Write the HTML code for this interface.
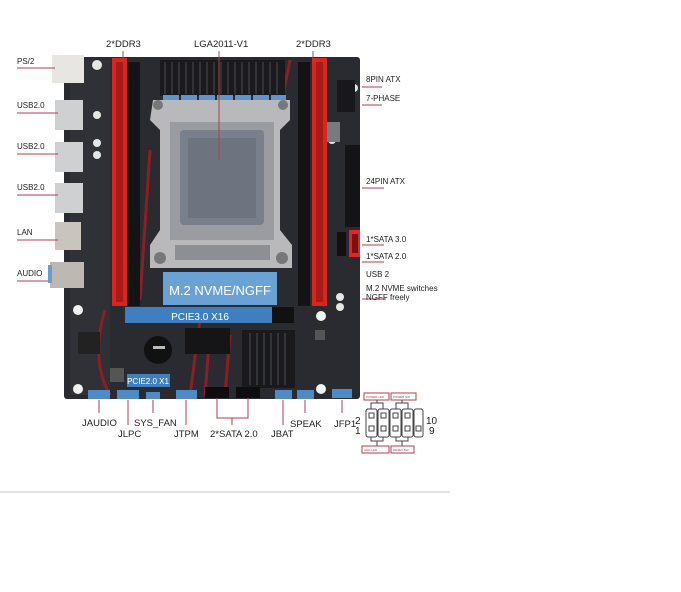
<!DOCTYPE html>
<html><head><meta charset="utf-8"><style>
html,body{margin:0;padding:0;background:#fff;width:681px;height:592px;overflow:hidden;font-family:"Liberation Sans",sans-serif;}
svg{position:absolute;left:0;top:0}
</style></head><body>
<svg width="681" height="592" viewBox="0 0 681 592" xmlns="http://www.w3.org/2000/svg" font-family="Liberation Sans, sans-serif">
<rect x="64" y="57" width="296" height="342" rx="3" fill="#2a2b30"/>
<rect x="70" y="60" width="40" height="335" fill="#303136"/>
<path d="M150 150 L140 300 M200 320 L190 395 M210 330 L205 395 M230 335 L225 395 M290 60 L280 110 M105 310 Q90 360 110 395" stroke="#8a1f25" stroke-width="3" fill="none"/>
<rect x="52" y="55" width="32" height="28" fill="#e8e6e2"/>
<rect x="55" y="100" width="28" height="30" fill="#cfd0d2"/>
<rect x="55" y="142" width="28" height="30" fill="#cfd0d2"/>
<rect x="55" y="183" width="28" height="30" fill="#cfd0d2"/>
<rect x="55" y="222" width="26" height="28" fill="#c9c4be"/>
<rect x="50" y="262" width="34" height="26" fill="#bdb8b1"/>
<rect x="48" y="265" width="4" height="18" fill="#6a9bd0"/>
<rect x="112" y="58" width="15" height="248" fill="#d8261f"/>
<rect x="116" y="62" width="7" height="240" fill="#a81a17"/>
<rect x="128" y="62" width="12" height="244" fill="#141416"/>
<rect x="298" y="62" width="12" height="244" fill="#141416"/>
<rect x="312" y="58" width="15" height="248" fill="#d8261f"/>
<rect x="316" y="62" width="7" height="240" fill="#a81a17"/>
<rect x="160" y="60" width="125" height="36" fill="#1a1a1d"/>
<g stroke="#3a3b40" stroke-width="1.5">
<line x1="165" y1="62" x2="165" y2="94"/><line x1="172" y1="62" x2="172" y2="94"/><line x1="179" y1="62" x2="179" y2="94"/><line x1="186" y1="62" x2="186" y2="94"/><line x1="193" y1="62" x2="193" y2="94"/><line x1="200" y1="62" x2="200" y2="94"/><line x1="207" y1="62" x2="207" y2="94"/><line x1="214" y1="62" x2="214" y2="94"/><line x1="221" y1="62" x2="221" y2="94"/><line x1="228" y1="62" x2="228" y2="94"/><line x1="235" y1="62" x2="235" y2="94"/><line x1="242" y1="62" x2="242" y2="94"/><line x1="249" y1="62" x2="249" y2="94"/><line x1="256" y1="62" x2="256" y2="94"/><line x1="263" y1="62" x2="263" y2="94"/><line x1="270" y1="62" x2="270" y2="94"/><line x1="277" y1="62" x2="277" y2="94"/>
</g>
<g fill="#5f95c8">
<rect x="163" y="95" width="16" height="17"/><rect x="181" y="95" width="16" height="17"/><rect x="199" y="95" width="16" height="17"/><rect x="217" y="95" width="16" height="17"/><rect x="235" y="95" width="16" height="17"/><rect x="253" y="95" width="16" height="17"/><rect x="271" y="95" width="15" height="17"/>
</g>
<g fill="#e6e6e6">
<circle cx="180" cy="117" r="4"/><circle cx="192" cy="117" r="4"/><circle cx="203" cy="117" r="4"/><circle cx="214" cy="117" r="4"/><circle cx="225" cy="117" r="4"/><circle cx="236" cy="117" r="4"/><circle cx="247" cy="117" r="4"/><circle cx="258" cy="117" r="4"/>
<circle cx="97" cy="65" r="5"/><circle cx="97" cy="115" r="4"/><circle cx="97" cy="143" r="4"/><circle cx="97" cy="155" r="4"/><circle cx="354" cy="88" r="4"/><circle cx="332" cy="130" r="4"/><circle cx="332" cy="140" r="4"/><circle cx="340" cy="297" r="4"/><circle cx="340" cy="307" r="4"/>
</g>
<path d="M153 100 L290 100 L290 120 L280 130 L280 230 L292 245 L292 268 L150 268 L150 245 L160 230 L160 130 L150 120 Z" fill="#b9b9bb"/>
<rect x="170" y="122" width="104" height="118" fill="#9a9ca2"/>
<rect x="180" y="130" width="84" height="95" rx="4" fill="#7a7f8c"/>
<rect x="188" y="138" width="68" height="80" fill="#6e7380"/>
<rect x="175" y="245" width="95" height="15" fill="#8e8f92"/>
<circle cx="158" cy="105" r="5" fill="#777"/><circle cx="283" cy="105" r="5" fill="#777"/>
<circle cx="160" cy="258" r="6" fill="#777"/><circle cx="282" cy="258" r="6" fill="#777"/>
<rect x="337" y="80" width="18" height="32" fill="#18181a"/>
<rect x="345" y="145" width="15" height="82" fill="#141416"/>
<rect x="349" y="230" width="11" height="27" fill="#e0262a"/>
<rect x="352" y="234" width="6" height="19" fill="#7a1010"/>
<rect x="337" y="232" width="9" height="24" fill="#111"/>
<rect x="327" y="122" width="13" height="20" fill="#777a80"/>
<rect x="163" y="272" width="114" height="33" fill="#6ba2d6"/>
<text x="220" y="295" font-size="13" fill="#fff" text-anchor="middle">M.2 NVME/NGFF</text>
<rect x="125" y="307" width="147" height="16" fill="#3f7fc0"/>
<text x="200" y="320" font-size="10" fill="#fff" text-anchor="middle">PCIE3.0 X16</text>
<rect x="272" y="307" width="22" height="16" fill="#111"/>
<circle cx="158" cy="350" r="14" fill="#111"/>
<rect x="153" y="346" width="12" height="3" fill="#bbb"/>
<rect x="185" y="328" width="45" height="26" fill="#151517"/>
<rect x="78" y="332" width="22" height="22" fill="#222"/>
<rect x="110" y="368" width="14" height="14" fill="#555"/>
<rect x="315" y="330" width="10" height="10" fill="#555"/>
<rect x="242" y="330" width="53" height="58" fill="#1a1a1c"/>
<g stroke="#3b3c40" stroke-width="1.5"><line x1="250" y1="333" x2="250" y2="385"/><line x1="257" y1="333" x2="257" y2="385"/><line x1="264" y1="333" x2="264" y2="385"/><line x1="271" y1="333" x2="271" y2="385"/><line x1="278" y1="333" x2="278" y2="385"/><line x1="285" y1="333" x2="285" y2="385"/></g>
<g fill="#f2f2f2"><circle cx="78" cy="310" r="5"/><circle cx="78" cy="389" r="5"/><circle cx="321" cy="316" r="5"/><circle cx="321" cy="389" r="5"/></g>
<rect x="127" y="374" width="43" height="13" fill="#3f7fc0"/>
<text x="148" y="384" font-size="8" fill="#fff" text-anchor="middle">PCIE2.0 X1</text>
<g fill="#4d8ac6"><rect x="88" y="390" width="22" height="9"/><rect x="117" y="390" width="22" height="9"/><rect x="146" y="392" width="14" height="7"/><rect x="176" y="390" width="21" height="9"/><rect x="275" y="390" width="17" height="9"/><rect x="297" y="390" width="17" height="9"/><rect x="332" y="389" width="20" height="9"/></g>
<rect x="205" y="387" width="24" height="11" fill="#0d0d0f"/><rect x="236" y="387" width="24" height="11" fill="#0d0d0f"/>
<g stroke="#b04048" stroke-width="1" fill="none">
<line x1="17" y1="68" x2="55" y2="68"/><line x1="17" y1="113" x2="58" y2="113"/><line x1="17" y1="154" x2="58" y2="154"/><line x1="17" y1="195" x2="58" y2="195"/><line x1="17" y1="240" x2="58" y2="240"/><line x1="17" y1="281" x2="48" y2="281"/>
<line x1="123" y1="51" x2="123" y2="62"/><line x1="219" y1="51" x2="219" y2="160"/><line x1="313" y1="51" x2="313" y2="62"/>
<line x1="362" y1="87" x2="382" y2="87"/><line x1="362" y1="105" x2="382" y2="105"/><line x1="362" y1="188" x2="384" y2="188"/><line x1="362" y1="245" x2="384" y2="245"/><line x1="362" y1="262" x2="384" y2="262"/><line x1="362" y1="299" x2="386" y2="299"/>
<line x1="99" y1="400" x2="99" y2="413"/><line x1="128" y1="400" x2="128" y2="425"/><line x1="153" y1="400" x2="153" y2="413"/><line x1="186" y1="400" x2="186" y2="425"/>
<path d="M217 398 V418 H248 V398"/><line x1="232" y1="418" x2="232" y2="425"/>
<line x1="283" y1="400" x2="283" y2="425"/><line x1="305" y1="400" x2="305" y2="413"/><line x1="342" y1="400" x2="342" y2="413"/>
</g>
<g font-size="8" fill="#222">
<text x="17" y="64">PS/2</text><text x="17" y="108">USB2.0</text><text x="17" y="149">USB2.0</text><text x="17" y="190">USB2.0</text><text x="17" y="235">LAN</text><text x="17" y="276">AUDIO</text>
<text x="366" y="82">8PIN ATX</text><text x="366" y="101">7-PHASE</text><text x="366" y="184">24PIN ATX</text><text x="366" y="242">1*SATA 3.0</text><text x="366" y="259">1*SATA 2.0</text><text x="366" y="277">USB 2</text><text x="366" y="291">M.2 NVME switches</text><text x="366" y="300">NGFF freely</text>
</g>
<g font-size="9.5" fill="#222">
<text x="106" y="47">2*DDR3</text><text x="194" y="47">LGA2011-V1</text><text x="296" y="47">2*DDR3</text>
<text x="82" y="426">JAUDIO</text><text x="118" y="437">JLPC</text><text x="134" y="426">SYS_FAN</text><text x="174" y="437">JTPM</text><text x="210" y="437">2*SATA 2.0</text><text x="271" y="437">JBAT</text><text x="290" y="427">SPEAK</text><text x="334" y="427">JFP1</text>
</g>
<g fill="none" stroke="#444" stroke-width="1">
<rect x="364" y="393" width="25" height="7" stroke="#b04048"/><rect x="391" y="393" width="25" height="7" stroke="#b04048"/>
<rect x="366" y="409" width="11" height="28" rx="2"/><rect x="378" y="409" width="11" height="28" rx="2"/><rect x="390" y="409" width="11" height="28" rx="2"/><rect x="402" y="409" width="11" height="28" rx="2"/><rect x="414" y="409" width="9" height="28" rx="2"/>
<rect x="369" y="413" width="5" height="5"/><rect x="381" y="413" width="5" height="5"/><rect x="393" y="413" width="5" height="5"/><rect x="405" y="413" width="5" height="5"/>
<rect x="369" y="426" width="5" height="5"/><rect x="381" y="426" width="5" height="5"/><rect x="393" y="426" width="5" height="5"/><rect x="405" y="426" width="5" height="5"/><rect x="416" y="426" width="5" height="5"/>
<path d="M371 409 V403 H383 V409 M377 403 V400 M396 409 V403 H408 V409 M402 403 V400 M371 437 V441 H383 V437 M377 441 V446 M396 437 V441 H408 V437 M402 441 V446"/>
<rect x="362" y="446" width="27" height="7" stroke="#b04048"/><rect x="391" y="446" width="23" height="7" stroke="#b04048"/>
</g>
<g font-size="3" fill="#b04048"><text x="366" y="398">POWER LED</text><text x="393" y="398">POWER SW</text><text x="364" y="451">HDD LED</text><text x="393" y="451">RESET SW</text></g>
<g font-size="10" fill="#222"><text x="355" y="424">2</text><text x="355" y="434">1</text><text x="426" y="424">10</text><text x="429" y="434">9</text></g>
<line x1="0" y1="492" x2="450" y2="492" stroke="#e2e2e2" stroke-width="2"/>
</svg>
</body></html>
